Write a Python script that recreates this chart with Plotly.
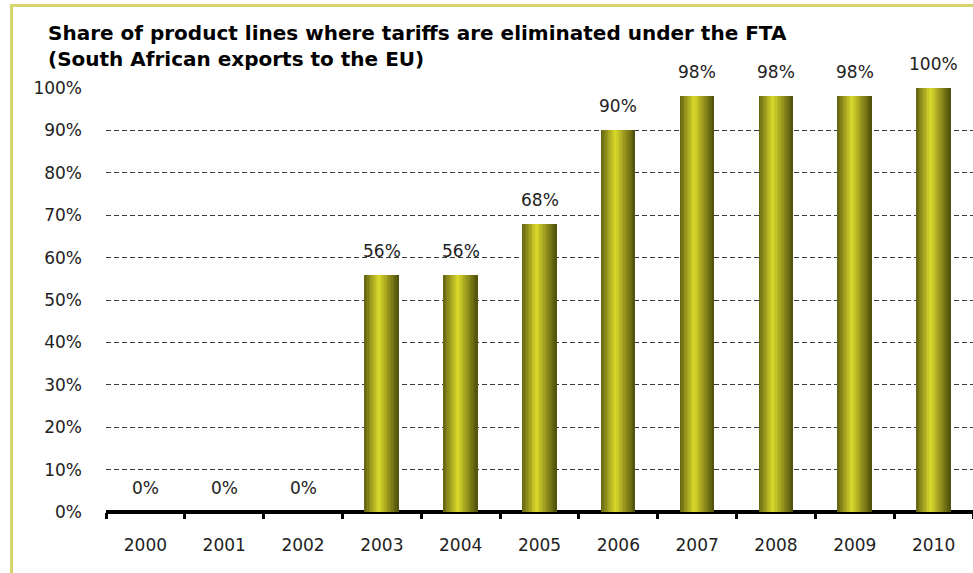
import plotly.graph_objects as go

years = ["2000", "2001", "2002", "2003", "2004", "2005", "2006", "2007", "2008", "2009", "2010"]
shares = [0, 0, 0, 56, 56, 68, 90, 98, 98, 98, 100]
labels = ["0%", "0%", "0%", "56%", "56%", "68%", "90%", "98%", "98%", "98%", "100%"]
y_ticks = [0, 10, 20, 30, 40, 50, 60, 70, 80, 90, 100]
y_tick_text = [f"{v}%" for v in y_ticks]
title_lines = ["Share of product lines where tariffs are eliminated under the FTA",
               "(South African exports to the EU)"]

W, H = 973, 573
ML, MR, MT, MB = 106, 0, 88, 61
FONT = "DejaVu Sans, sans-serif"

# horizontal gradient stops (position, rgb)
stops = [(0.0, (98, 98, 18)), (0.42, (220, 218, 44)), (1.0, (78, 78, 12))]


def grad(t):
    for (p0, c0), (p1, c1) in zip(stops[:-1], stops[1:]):
        if p0 <= t <= p1:
            f = (t - p0) / (p1 - p0)
            return "rgb(%d,%d,%d)" % tuple(round(a + (b - a) * f) for a, b in zip(c0, c1))
    return "rgb(%d,%d,%d)" % stops[-1][1]


fig = go.Figure()
BAR_W = 0.43
N = 24
sw = BAR_W / N
for i in range(N):
    t = (i + 0.5) / N
    fig.add_trace(go.Bar(
        x=years, y=shares, width=sw * 1.08, offset=-BAR_W / 2 + i * sw,
        marker=dict(color=grad(t), line=dict(width=0)),
        hoverinfo="skip", showlegend=False,
    ))

for idx, (v, lab) in enumerate(zip(shares, labels)):
    fig.add_annotation(x=idx, y=v, text=lab, showarrow=False, yanchor="middle", yshift=24,
                       font=dict(family=FONT, size=17, color="#222"))

pw, ph = W - ML - MR, H - MT - MB
def px(xp):
    return (xp - ML) / pw
def py(yp):
    return (H - MB - yp) / ph

# title
for line, yc in zip(title_lines, [33, 59]):
    fig.add_annotation(xref="paper", yref="paper", x=px(45.5), y=py(yc),
                       xanchor="left", yanchor="middle", showarrow=False, align="left",
                       text="<b>" + line + "</b>", font=dict(family=FONT, size=20, color="#000"))

# frame lines (yellowish border)
frame_col = "#d6d46c"
fig.add_shape(type="line", xref="paper", yref="paper", x0=px(11.5), x1=px(11.5), y0=py(4), y1=py(580),
              line=dict(color=frame_col, width=3))
fig.add_shape(type="line", xref="paper", yref="paper", x0=px(10), x1=px(990), y0=py(5.5), y1=py(5.5),
              line=dict(color=frame_col, width=3))

fig.update_layout(
    width=W, height=H, margin=dict(l=ML, r=MR, t=MT, b=MB, autoexpand=False),
    paper_bgcolor="white", plot_bgcolor="white", barmode="overlay", bargap=0,
    font=dict(family=FONT, size=17, color="#222"), showlegend=False,
)
fig.update_xaxes(type="category", range=[-0.5, 10.5], automargin=False, showline=False,
                 ticks="outside", tickson="boundaries", ticklen=6, tickwidth=3, tickcolor="black",
                 tickfont=dict(family=FONT, size=17, color="#222"), ticklabelstandoff=21,
                 tickangle=0, showgrid=False, zeroline=False)
fig.update_yaxes(range=[0, 100], automargin=False, tickvals=y_ticks, ticktext=y_tick_text, showgrid=True,
                 gridcolor="#3a3a3a", griddash="5px,3px", gridwidth=1,
                 zeroline=True, zerolinecolor="black", zerolinewidth=4, showline=False,
                 tickfont=dict(family=FONT, size=17, color="#222"), ticklabelstandoff=23)

fig.write_html("out.html", config={"displayModeBar": False},
               post_script="document.body.style.margin='0';")
